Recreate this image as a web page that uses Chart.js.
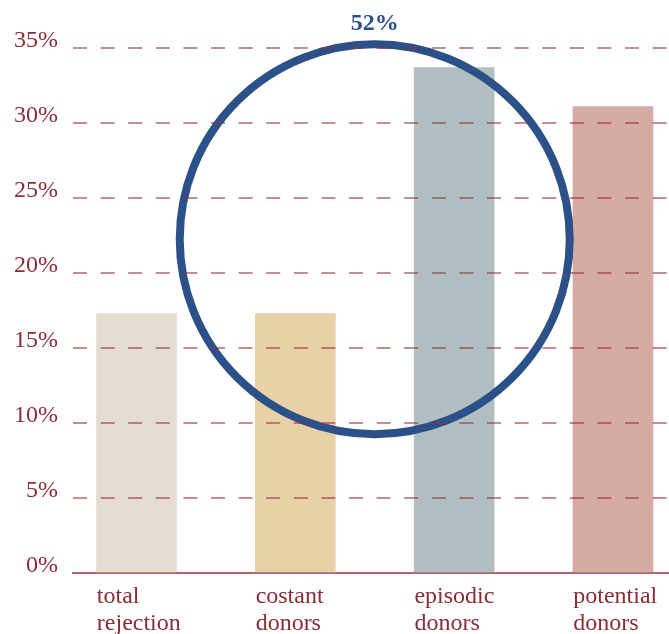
<!DOCTYPE html>
<html>
<head>
<meta charset="utf-8">
<script src="https://cdn.jsdelivr.net/npm/chart.js@4"></script>
<style>
  html, body { margin: 0; padding: 0; background: #fff; overflow: hidden; }
  #chart { display: block; }
</style>
</head>
<body>
<canvas id="chart" width="669" height="634"></canvas>
<script>
// categories, shares (%) and bar colours
var categories = [
  ['total', 'rejection'],
  ['costant', 'donors'],
  ['episodic', 'donors'],
  ['potential', 'donors']
];
var shares = [17.3, 17.3, 33.7, 31.1];
var barColors = ['#e5ddd0', '#e8d1a7', '#b1bec2', '#d4aca3'];

// highlight ring around costant + episodic donors
var ringCenter = { x: 1.5, y: 22.25 };
var ringLabel = '52%';

var tickRed = '#8a2c38';
var ringBlue = '#2c5188';

Chart.defaults.font.family = "'Liberation Serif', 'Times New Roman', serif";
Chart.defaults.font.size = 24;
Chart.defaults.color = tickRed;

var barData = shares.map(function(v, i) {
  return { x: i, y: v };
});

// writes the ring's label just above its top edge
var ringLabelPlugin = {
  id: 'ringLabel',
  afterDraw: function(chart) {
    var pt = chart.getDatasetMeta(1).data[0];
    if (!pt) return;
    var r = pt.options.radius + pt.options.borderWidth / 2;
    var ctx = chart.ctx;
    ctx.save();
    ctx.font = "bold 24px 'Liberation Serif', serif";
    ctx.fillStyle = ringBlue;
    ctx.textAlign = 'center';
    ctx.textBaseline = 'alphabetic';
    ctx.fillText(ringLabel, pt.x, pt.y - r - 10);
    ctx.restore();
  }
};

var ctx = document.getElementById('chart').getContext('2d');
var chart = new Chart(ctx, {
  type: 'bar',
  data: {
    datasets: [
      {
        type: 'bar',
        data: barData,
        backgroundColor: barColors,
        barThickness: 80,
        order: 1
      },
      {
        type: 'scatter',
        data: [ringCenter],
        pointRadius: 195,
        pointHoverRadius: 195,
        pointBorderWidth: 8,
        pointHoverBorderWidth: 8,
        pointBackgroundColor: 'rgba(0,0,0,0)',
        pointBorderColor: ringBlue,
        clip: false,
        order: 0
      }
    ]
  },
  options: {
    responsive: false,
    animation: false,
    events: [],
    layout: { autoPadding: false, padding: { top: 48, right: 0, bottom: 0, left: 0 } },
    plugins: {
      legend: { display: false },
      tooltip: { enabled: false }
    },
    scales: {
      x: {
        type: 'linear',
        offset: false,
        min: -0.4,
        max: 3.353,
        grid: { display: false, drawTicks: false, offset: false },
        border: { display: true, color: '#b0646d', width: 2 },
        // labels start at the left edge of each bar
        afterBuildTicks: function(scale) {
          scale.ticks = categories.map(function(c, i) {
            return { value: i - 0.25 };
          });
        },
        afterFit: function(scale) { scale.height = 61; },
        ticks: {
          align: 'start',
          maxRotation: 0,
          autoSkip: false,
          padding: 11,
          font: { size: 24, lineHeight: 1.1 },
          callback: function(value, index) {
            return categories[index];
          }
        }
      },
      y: {
        min: 0,
        max: 35,
        afterFit: function(scale) { scale.width = 73; },
        grid: {
          z: 1,
          drawTicks: false,
          lineWidth: 2,
          color: function(c) {
            return c.tick && c.tick.value === 0 ? 'rgba(0,0,0,0)' : 'rgba(150,45,60,0.55)';
          }
        },
        border: { display: false, dash: [14, 13.6] },
        ticks: {
          stepSize: 5,
          padding: 15,
          labelOffset: -7,
          callback: function(v) { return v + '%'; }
        }
      }
    }
  },
  plugins: [ringLabelPlugin]
});
</script>
</body>
</html>
